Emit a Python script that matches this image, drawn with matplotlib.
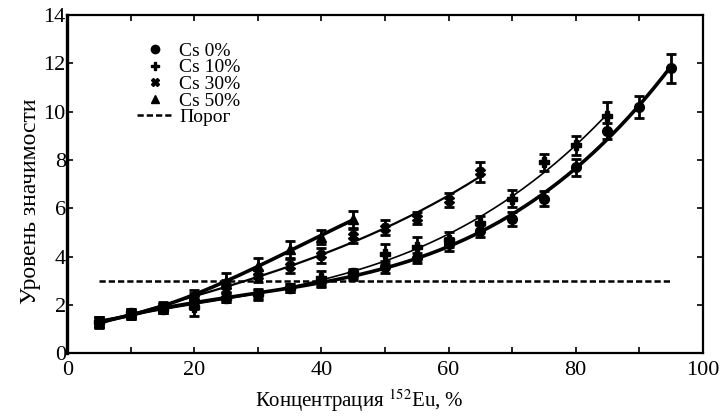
import matplotlib.pyplot as plt
import numpy as np

plt.rcParams['font.family'] = ['Liberation Serif', 'DejaVu Serif']
plt.rcParams['mathtext.fontset'] = 'stix'

LABELS = ["Cs 0%", "Cs 10%", "Cs 30%", "Cs 50%"]
MARKERS = ["o", "P", "X", "^"]
WIDTHS = [2.6, 1.2, 1.6, 2.6]

conc0 = [5, 10, 15, 20, 25, 30, 35, 40, 45, 50, 55, 60, 65, 70, 75, 80, 85, 90, 95]
level0 = [1.25, 1.6, 1.85, 2.1, 2.3, 2.4, 2.7, 2.95, 3.25, 3.55, 3.95, 4.5, 5.05, 5.55, 6.4, 7.7, 9.2, 10.2, 11.8]
err0 = [0.2, 0.2, 0.2, 0.25, 0.2, 0.2, 0.15, 0.2, 0.2, 0.25, 0.2, 0.25, 0.25, 0.3, 0.3, 0.35, 0.35, 0.45, 0.6]

conc10 = [5, 10, 15, 20, 25, 30, 35, 40, 45, 50, 55, 60, 65, 70, 75, 80, 85]
level10 = [1.3, 1.65, 1.85, 1.9, 2.3, 2.45, 2.7, 3.1, 3.3, 4.1, 4.4, 4.7, 5.4, 6.4, 7.9, 8.6, 9.8]
err10 = [0.2, 0.2, 0.2, 0.35, 0.2, 0.2, 0.15, 0.3, 0.2, 0.4, 0.4, 0.3, 0.3, 0.35, 0.35, 0.4, 0.6]

conc30 = [5, 10, 15, 20, 25, 30, 35, 40, 45, 50, 55, 60, 65]
level30 = [1.3, 1.6, 1.85, 2.3, 2.8, 3.2, 3.6, 4.05, 4.85, 5.2, 5.6, 6.35, 7.5]
err30 = [0.2, 0.2, 0.2, 0.2, 0.25, 0.25, 0.3, 0.3, 0.3, 0.3, 0.25, 0.3, 0.4]

conc50 = [5, 10, 15, 20, 25, 30, 35, 40, 45]
level50 = [1.3, 1.65, 1.9, 2.4, 3.0, 3.6, 4.3, 4.8, 5.55]
err50 = [0.2, 0.2, 0.2, 0.2, 0.3, 0.35, 0.35, 0.3, 0.35]

threshold = 3.0
threshold_range = [5, 95]

series = [(conc0, level0, err0), (conc10, level10, err10),
          (conc30, level30, err30), (conc50, level50, err50)]

fig = plt.figure(figsize=(7.23, 4.17), dpi=100)
ax = fig.add_axes([0.093, 0.153, 0.879, 0.811])

for i, (x, y, e) in enumerate(series):
    x = np.array(x, dtype=float)
    y = np.array(y, dtype=float)
    coef = np.polyfit(x, y, 3)
    xs = np.linspace(x.min(), x.max(), 200)
    ax.plot(xs, np.polyval(coef, xs), color='black', lw=WIDTHS[i])
    ax.errorbar(x, y, yerr=e, fmt=MARKERS[i], color='black', ms=7,
                elinewidth=2, capsize=3.5, capthick=2)
    ax.plot([], [], MARKERS[i], color='black', ms=6, label=LABELS[i])

ax.plot(threshold_range, [threshold, threshold], color='black', lw=1.8,
        dashes=(2.5, 1.2), label="Порог")

ax.set_xlim(0, 100)
ax.set_ylim(0, 14)
ax.set_xticks(range(0, 101, 10))
ax.set_xticklabels([str(v) if v % 20 == 0 else "" for v in range(0, 101, 10)])
ax.set_yticks(range(0, 15, 2))
ax.tick_params(direction='in', top=True, right=True, length=4, width=1.2,
               labelsize=16, pad=1)
ax.tick_params(axis='x', pad=5.5)
for side in ax.spines:
    ax.spines[side].set_linewidth(1.6)
ax.spines['left'].set_linewidth(2.4)

ax.set_xlabel("Концентрация $^{152}$Eu, %", fontsize=15, labelpad=0)
ax.xaxis.set_label_coords(0.46, -0.1)
ax.set_ylabel("Уровень значимости", fontsize=17)
ax.yaxis.set_label_coords(-0.042, 0.45)

ax.legend(loc='upper left', bbox_to_anchor=(0.11, 0.92), frameon=False,
          fontsize=14, labelspacing=-0.05, handlelength=1.8, handletextpad=0.35,
          borderpad=0, borderaxespad=0)

fig.savefig("out.png", dpi=100)
